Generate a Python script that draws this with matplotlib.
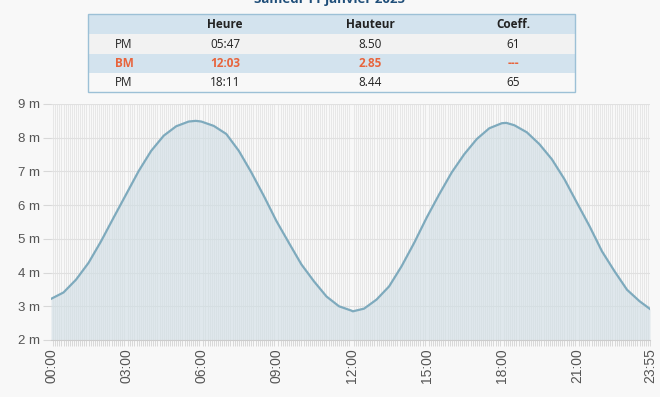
import numpy as np
import matplotlib
matplotlib.use("Agg")
import matplotlib.pyplot as plt

# heights (hours, metres)
hours = [0, 0.5, 1, 1.5, 2, 2.5, 3, 3.5, 4, 4.5, 5, 5.5, 5.78, 6, 6.5, 7, 7.5, 8,
         8.5, 9, 9.5, 10, 10.5, 11, 11.5, 12, 12.05, 12.5, 13, 13.5, 14, 14.5, 15,
         15.5, 16, 16.5, 17, 17.5, 18, 18.18, 18.5, 19, 19.5, 20, 20.5, 21, 21.5,
         22, 22.5, 23, 23.5, 23.917]
heights = [3.22, 3.41, 3.79, 4.29, 4.93, 5.63, 6.32, 7.01, 7.61, 8.06, 8.34, 8.48, 8.50,
           8.48, 8.35, 8.11, 7.61, 6.97, 6.27, 5.53, 4.88, 4.24, 3.74, 3.29, 3.00,
           2.87, 2.85, 2.93, 3.20, 3.59, 4.19, 4.88, 5.63, 6.32, 6.97, 7.51, 7.96,
           8.28, 8.43, 8.44, 8.37, 8.16, 7.81, 7.36, 6.77, 6.07, 5.38, 4.63, 4.04,
           3.49, 3.15, 2.92]

tick_hours = [0, 3, 6, 9, 12, 15, 18, 21, 23.917]
tick_labels = ["00:00", "03:00", "06:00", "09:00", "12:00", "15:00", "18:00", "21:00", "23:55"]

table_head = ["", "Heure", "Hauteur", "Coeff."]
table_rows = [["PM", "05:47", "8.50", "61"],
              ["BM", "12:03", "2.85", "---"],
              ["PM", "18:11", "8.44", "65"]]
title = "Samedi 11 janvier 2025"

BG = "#f8f8f8"
fig = plt.figure(figsize=(6.6, 3.97), dpi=100, facecolor=BG)
W, H = 660, 397
ax = fig.add_axes([51 / W, 1 - 340 / H, 599 / W, 236 / H], facecolor=BG)

ax.fill_between(hours, heights, 2, color="#cfdde4", alpha=0.6, lw=0, zorder=2)
ax.plot(hours, heights, color="#7eaabd", lw=1.6, zorder=3)

ax.set_xlim(0, 23.917)
ax.set_ylim(2, 9)
ax.set_yticks(range(2, 10))
ax.set_yticklabels([f"{v} m" for v in range(2, 10)])
ax.set_xticks(tick_hours)
ax.set_xticklabels(tick_labels, rotation=90)
ax.set_xticks(np.arange(0, 24, 5 / 60), minor=True)

ax.grid(which="major", axis="y", color="#e0e0e0", lw=0.8, zorder=1)
ax.grid(which="minor", axis="x", color="#e0e0e0", lw=0.5, zorder=1)
ax.tick_params(axis="y", length=6, color="#d8d8d8", labelsize=9.5, labelcolor="#555555", pad=2)
ax.tick_params(axis="x", which="major", length=0, labelsize=10, labelcolor="#555555", pad=6)
ax.tick_params(axis="x", which="minor", length=4, width=0.5, color="#cccccc")
for side in ["top", "right", "left"]:
    ax.spines[side].set_visible(False)
ax.spines["bottom"].set_color("#cccccc")
ax.spines["bottom"].set_linewidth(0.8)
for lab in ax.get_xticklabels() + ax.get_yticklabels():
    lab.set_family("Liberation Sans")

# title, cut at the top edge as in the source page
fig.text(330 / W, 1 - 3 / H, title, ha="center", va="baseline", color="#1f4e79",
         fontsize=9.5, fontweight="bold", family="Open Sans")

# tide table
tx0, tx1 = 88, 575
row_y = [14, 34, 54, 73, 92]
col_x = [124, 225, 370, 513]
row_bg = ["#d3e3ee", "#f2f2f2", "#d3e3ee", "#f8f8f8"]
for i in range(4):
    y0, y1 = row_y[i], row_y[i + 1]
    fig.patches.append(plt.Rectangle((tx0 / W, 1 - y1 / H), (tx1 - tx0) / W, (y1 - y0) / H,
                                     transform=fig.transFigure, facecolor=row_bg[i],
                                     edgecolor="none", zorder=0))
fig.patches.append(plt.Rectangle((tx0 / W, 1 - row_y[-1] / H), (tx1 - tx0) / W,
                                 (row_y[-1] - row_y[0]) / H, transform=fig.transFigure,
                                 facecolor="none", edgecolor="#9cc0d6", lw=1, zorder=1))
for i, row in enumerate([table_head] + table_rows):
    yc = 1 - (row_y[i] + row_y[i + 1]) / 2 / H
    bold = i == 0 or i == 2
    color = "#e8643c" if i == 2 else "#222222"
    for j, txt in enumerate(row):
        fig.text(col_x[j] / W, yc, txt, ha="center", va="center", fontsize=8.5,
                 family="Open Sans", fontweight="bold" if bold else "normal", color=color)

fig.savefig("out.png", dpi=100, facecolor=BG)
